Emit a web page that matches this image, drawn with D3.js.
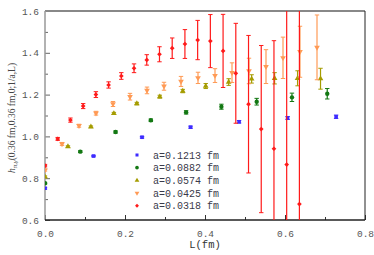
<!DOCTYPE html>
<html><head><meta charset="utf-8">
<script src="https://cdn.jsdelivr.net/npm/d3@7"></script>
<style>body{margin:0;background:#fff;} svg{display:block;}</style>
</head><body>
<svg id="chart" width="374" height="255"></svg>
<script>
// ---- data ----
const seriesLabels = ["a=0.1213 fm","a=0.0882 fm","a=0.0574 fm","a=0.0425 fm","a=0.0318 fm"];
const latticeSpacings = [0.1213, 0.0882, 0.0574, 0.0425, 0.0318];
const blueValues  = [0.752, 0.906, 0.996, 1.044, 1.070, 1.088, 1.094];
const blueErrors  = [0.004, 0.003, 0.004, 0.005, 0.006, 0.007, 0.008];
const greenValues = [0.776, 0.927, 1.021, 1.077, 1.115, 1.142, 1.166, 1.187, 1.204];
const greenErrors = [0.004, 0.004, 0.005, 0.006, 0.008, 0.012, 0.016, 0.020, 0.025];
const oliveValues = [0.807, 0.951, 1.046, 1.110, 1.157, 1.190, 1.217, 1.241, 1.260, 1.275, 1.278, 1.278, 1.276];
const oliveErrors = [0.004, 0.004, 0.004, 0.005, 0.006, 0.007, 0.008, 0.012, 0.016, 0.020, 0.027, 0.036, 0.050];
const orangeValues = [0.839, 0.964, 1.051, 1.111, 1.155, 1.190, 1.220, 1.240, 1.263, 1.280, 1.291, 1.305, 1.313, 1.334, 1.376, 1.405, 1.426];
const orangeErrors = [0.005, 0.007, 0.007, 0.009, 0.012, 0.016, 0.016, 0.019, 0.024, 0.027, 0.033, 0.047, 0.061, 0.081, 0.099, 0.122, 0.155];
const redValues = [0.860, 0.988, 1.078, 1.145, 1.200, 1.246, 1.289, 1.326, 1.366, 1.393, 1.422, 1.442, 1.461, 1.456, 1.409, 1.302, 1.154, 1.035, 0.941, 0.865, 0.676];
const redErrors = [0.006, 0.007, 0.010, 0.012, 0.014, 0.015, 0.016, 0.021, 0.025, 0.036, 0.049, 0.069, 0.094, 0.127, 0.175, 0.239, 0.329, 0.400, 0.517, 0.850, 1.100];
const xTicks = [0.0, 0.2, 0.4, 0.6, 0.8];
const yTicks = [0.6, 0.8, 1.0, 1.2, 1.4, 1.6];

// ---- styles ----
const colors = ["#3d2bff", "#137813", "#a59c00", "#ff9a55", "#ff1a1a"];
const symbols = [d3.symbolSquare, d3.symbolCircle, d3.symbolTriangle, d3.symbolTriangle, d3.symbolDiamond2];
const rotations = [0, 0, 0, 180, 0];
const sizes = [13, 15, 14, 14, 14];
const valueSets = [blueValues, greenValues, oliveValues, orangeValues, redValues];
const errorSets = [blueErrors, greenErrors, oliveErrors, orangeErrors, redErrors];

const svg = d3.select("#chart");
const M = {left:45, right:365, top:11, bottom:220};
const x = d3.scaleLinear().domain([0, 0.8]).range([M.left, M.right]);
const y = d3.scaleLinear().domain([0.6, 1.6]).range([M.bottom, M.top]);

svg.append("defs").append("clipPath").attr("id","clip")
  .append("rect").attr("x",M.left).attr("y",M.top).attr("width",M.right-M.left).attr("height",M.bottom-M.top);

const tickFont = "'Liberation Mono', monospace";

// minor ticks
svg.append("g").attr("transform",`translate(0,${M.bottom})`)
  .call(d3.axisBottom(x).tickValues(d3.range(1,8,2).map(d=>d/10)).tickSize(-3).tickFormat(""))
  .call(g=>g.select(".domain").remove())
  .call(g=>g.selectAll("line").attr("stroke","#333"));
svg.append("g").attr("transform",`translate(${M.left},0)`)
  .call(d3.axisLeft(y).tickValues([0.7,0.9,1.1,1.3,1.5]).tickSize(-3).tickFormat(""))
  .call(g=>g.select(".domain").remove())
  .call(g=>g.selectAll("line").attr("stroke","#666"));

// major axes
svg.append("g").attr("transform",`translate(0,${M.bottom})`)
  .call(d3.axisBottom(x).tickValues(xTicks).tickSize(-5).tickPadding(10).tickFormat(d3.format(".1f")))
  .call(g=>g.select(".domain").remove())
  .call(g=>g.selectAll("line").attr("stroke","#333"))
  .call(g=>g.selectAll("text").attr("font-family",tickFont).attr("font-size",9.5).attr("fill","#555"));
svg.append("g").attr("transform",`translate(${M.left},0)`)
  .call(d3.axisLeft(y).tickValues(yTicks).tickSize(-5).tickPadding(6).tickFormat(d3.format(".1f")))
  .call(g=>g.select(".domain").remove())
  .call(g=>g.selectAll("line").attr("stroke","#666"))
  .call(g=>g.selectAll("text").attr("font-family",tickFont).attr("font-size",9.5).attr("fill","#555"));

// frame
svg.append("line").attr("x1",M.left).attr("x2",M.right).attr("y1",M.top).attr("y2",M.top).attr("stroke","#888").attr("stroke-width",2);
svg.append("line").attr("x1",M.right).attr("x2",M.right).attr("y1",M.top).attr("y2",M.bottom).attr("stroke","#222").attr("stroke-width",1);
svg.append("line").attr("x1",M.left).attr("x2",M.left).attr("y1",M.top).attr("y2",M.bottom).attr("stroke","#999").attr("stroke-width",1.5);
svg.append("line").attr("x1",M.left).attr("x2",M.right).attr("y1",M.bottom).attr("y2",M.bottom).attr("stroke","#222").attr("stroke-width",1.5);

// data
const plot = svg.append("g").attr("clip-path","url(#clip)");
valueSets.forEach((vals, s) => {
  const a = latticeSpacings[s];
  const pts = vals.map((v,i)=>({L:i*a, v, e:errorSets[s][i]}));
  const g = plot.append("g");
  const cap = 2.2;
  pts.forEach(p=>{
    const px = x(p.L), y1 = y(p.v + p.e), y2 = y(p.v - p.e);
    g.append("line").attr("x1",px).attr("x2",px).attr("y1",y1).attr("y2",y2)
      .attr("stroke",colors[s]).attr("stroke-width",1.2);
    g.append("line").attr("x1",px-cap).attr("x2",px+cap).attr("y1",y1).attr("y2",y1)
      .attr("stroke",colors[s]).attr("stroke-width",1);
    g.append("line").attr("x1",px-cap).attr("x2",px+cap).attr("y1",y2).attr("y2",y2)
      .attr("stroke",colors[s]).attr("stroke-width",1);
  });
  g.selectAll("path.pt").data(pts).join("path").attr("class","pt")
    .attr("d", d3.symbol().type(symbols[s]).size(sizes[s]))
    .attr("transform", d=>`translate(${x(d.L)},${y(d.v)}) rotate(${rotations[s]})`)
    .attr("fill", colors[s]);
});

// legend
const leg = svg.append("g");
seriesLabels.forEach((lab,i)=>{
  const ly = 155 + i*12.7;
  leg.append("path").attr("d", d3.symbol().type(symbols[i]).size(sizes[i]*0.7))
    .attr("transform",`translate(137,${ly}) rotate(${rotations[i]})`).attr("fill",colors[i]);
  leg.append("text").attr("x",153).attr("y",ly+3.5).text(lab)
    .attr("font-family",tickFont).attr("font-size",10).attr("fill","#3a3a4a");
});

// axis titles
svg.append("text").attr("x",(M.left+M.right)/2).attr("y",248).attr("text-anchor","middle")
  .attr("font-family",tickFont).attr("font-size",10.5).attr("fill","#333").text("L(fm)");

const yl = svg.append("text").attr("transform","translate(15,118) rotate(-90)").attr("text-anchor","middle")
  .attr("font-family","'Liberation Serif', serif").attr("font-size",9.5).attr("fill","#444");
yl.append("tspan").attr("font-style","italic").text("h");
yl.append("tspan").attr("font-size",7).attr("dy",2).attr("font-style","italic").text("π,γ");
yl.append("tspan").attr("dy",-2).text("(0.36 fm,0.36 fm,0;1/a,L)");
</script>
</body></html>
